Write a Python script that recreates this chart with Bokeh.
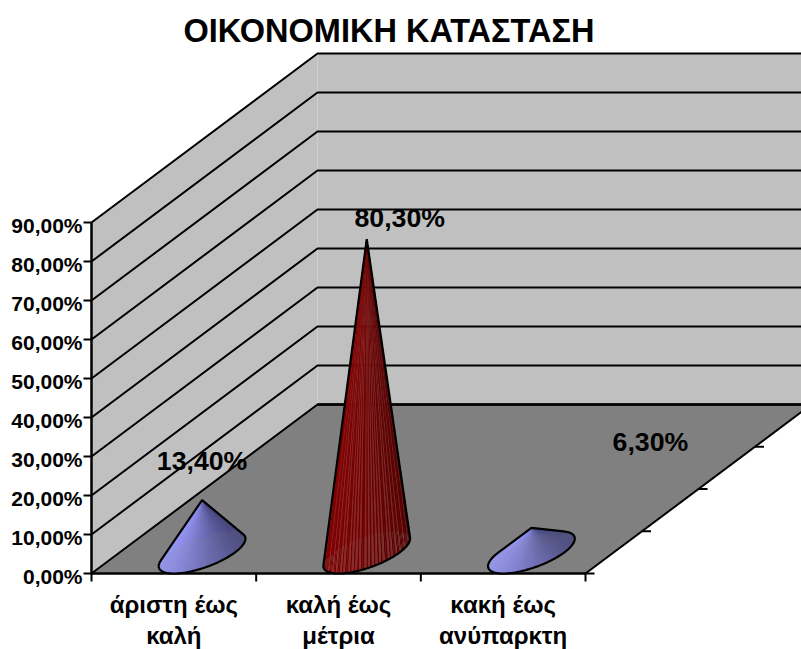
from bokeh.plotting import figure
from bokeh.embed import file_html
from bokeh.resources import INLINE
from bokeh.core.properties import value
from bokeh.models import Range1d
import numpy as np

# ---- data ----
title_text = "ΟΙΚΟΝΟΜΙΚΗ ΚΑΤΑΣΤΑΣΗ"
categories = [["άριστη έως", "καλή"], ["καλή έως", "μέτρια"], ["κακή έως", "ανύπαρκτη"]]
values = [13.4, 80.3, 6.3]
value_labels = ["13,40%", "80,30%", "6,30%"]
y_ticks = [0, 10, 20, 30, 40, 50, 60, 70, 80, 90]
y_tick_labels = ["0,00%", "10,00%", "20,00%", "30,00%", "40,00%", "50,00%", "60,00%", "70,00%", "80,00%", "90,00%"]
depth_ticks = [0.0, 0.25, 0.5, 0.75]

# ---- projection ----
X0, Y0 = 91.0, 573.0
CW = 164.67          # one category
VY = 3.9             # one percent
DX, DY = 226.0, -169.0   # full depth
YMAX = 90
NC = len(categories)
FONT = value("Liberation Sans")

def pr(c, v=0.0, d=0.0):
    return X0 + c * CW + d * DX, Y0 - v * VY + d * DY

p = figure(width=801, height=649, x_range=Range1d(0, 801), y_range=Range1d(649, 0),
           output_backend="svg", toolbar_location=None, min_border=0,
           outline_line_color=None, background_fill_color="white", border_fill_color="white")
p.axis.visible = False
p.grid.visible = False

def poly(pts, fill):
    p.patch([a[0] for a in pts], [a[1] for a in pts], fill_color=fill, line_color=None)

poly([pr(0, YMAX), pr(0, YMAX, 1), pr(0, 0, 1), pr(0)], "#C0C0C0")
poly([pr(0, YMAX, 1), pr(NC, YMAX, 1), pr(NC, 0, 1), pr(0, 0, 1)], "#C0C0C0")
poly([pr(0), pr(0, 0, 1), pr(NC, 0, 1), pr(NC)], "#808080")

# gridlines on the two walls
for v in y_ticks:
    a, b, c = pr(0, v), pr(0, v, 1), pr(NC, v, 1)
    p.line([a[0], b[0], c[0]], [a[1], b[1], c[1]], line_color="black", line_width=2)
# floor outline
a, b, c, d = pr(0), pr(NC), pr(NC, 0, 1), pr(0, 0, 1)
p.line([d[0], c[0]], [d[1], c[1]], line_color="black", line_width=2.5)
p.line([b[0], c[0]], [b[1], c[1]], line_color="black", line_width=2)
p.line([a[0], b[0]], [a[1], b[1]], line_color="black", line_width=2.5)
# value axis
a, b = pr(0, 0), pr(0, YMAX)
p.line([a[0], b[0]], [a[1], b[1]], line_color="black", line_width=2.5)
for v, lab in zip(y_ticks, y_tick_labels):
    x, y = pr(0, v)
    p.line([x - 8, x], [y, y], line_color="black", line_width=2)
    p.text([x - 9], [y + 2.5], text=[lab], text_font=FONT, text_font_style="bold", text_font_size="21px",
           text_align="right", text_baseline="alphabetic", text_color="black")
# category ticks
for i in range(NC + 1):
    x, y = pr(i)
    p.line([x, x], [y, y + 8], line_color="black", line_width=2)
# depth ticks
for d in depth_ticks:
    x, y = pr(NC, 0, d)
    p.line([x, x + 9], [y, y], line_color="black", line_width=2)

# category labels
for i, lines in enumerate(categories):
    x, y = pr(i + 0.5)
    for j, line in enumerate(lines):
        p.text([x], [y + 31 + 31 * j], text=[line], text_font=FONT, text_font_style="bold",
               text_font_size="24px", text_align="center", text_baseline="alphabetic", text_color="black")

def hull(pts):
    pts = sorted(set(pts))
    def half(seq):
        out = []
        for q in seq:
            while len(out) > 1 and (out[-1][0]-out[-2][0])*(q[1]-out[-2][1]) - (out[-1][1]-out[-2][1])*(q[0]-out[-2][0]) <= 0:
                out.pop()
            out.append(q)
        return out
    lo, up = half(pts), half(pts[::-1])
    return lo[:-1] + up[:-1]

def lerp(c1, c2, f):
    return "#%02x%02x%02x" % tuple(int(round(a + (b - a) * f)) for a, b in zip(c1, c2))

def cone(i, v, c_stops, stripe=None):
    ax, ay = pr(i + 0.5, v, 0.125)
    t = np.linspace(0, 2 * np.pi, 145)
    ring = [pr(i + 0.5 + 0.2 * np.cos(a), 0, 0.125 + 0.125 * np.sin(a)) for a in t]
    xs = [q[0] for q in ring]
    lo, hi = min(xs), max(xs)
    order = sorted(range(len(ring) - 1), key=lambda k: ring[k][1])
    for k in order:
        q, r = ring[k], ring[k + 1]
        f = ((q[0] + r[0]) / 2 - lo) / (hi - lo)
        col = lerp(c_stops[0], c_stops[1], f)
        if stripe and int(q[0] / 4) != int(r[0] / 4):
            col = stripe(f)
        p.patch([ax, q[0], r[0]], [ay, q[1], r[1]], fill_color=col, line_color=col, line_width=0.1)
    h = hull([(float(a), float(b)) for a, b in ring] + [(float(ax), float(ay))])
    p.patch([q[0] for q in h], [q[1] for q in h], fill_color=None, line_color="black", line_width=2.2)

BLUE = ((0x9c, 0x9c, 0xff), (0x4a, 0x4a, 0x80))
RED = ((0x80, 0x02, 0x02), (0x58, 0x00, 0x00))
cone(0, values[0], BLUE)
cone(1, values[1], RED, stripe=lambda f: lerp((0x98, 0x28, 0x28), (0x74, 0x30, 0x30), f))
cone(2, values[2], BLUE)

# value labels
offsets = [(0, -39), (33, -21), (119, -86)]
for i, (v, lab) in enumerate(zip(values, value_labels)):
    x, y = pr(i + 0.5, v, 0.125)
    p.text([x + offsets[i][0]], [y + offsets[i][1]], text=[lab], text_font=FONT, text_font_style="bold",
           text_font_size="26.7px", text_align="center", text_baseline="alphabetic", text_color="black")

p.text([388.5], [30], text=[title_text], text_font=FONT, text_font_style="bold", text_font_size="32.5px",
       text_align="center", text_baseline="alphabetic", text_color="black")

open("out.html", "w").write(file_html(p, INLINE))
